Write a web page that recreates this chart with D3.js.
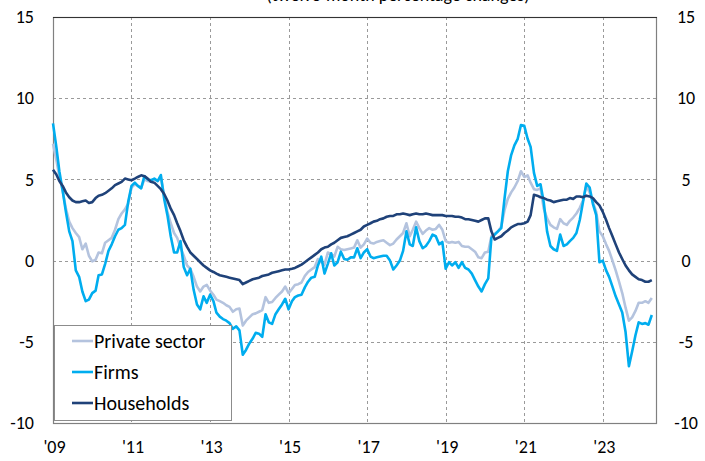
<!DOCTYPE html>
<html>
<head>
<meta charset="utf-8">
<script src="https://cdn.jsdelivr.net/npm/d3@7"></script>
<style>
  body { margin: 0; background: #fff; }
  svg { display: block; font-family: Carlito, Lato, "Open Sans", sans-serif; }
</style>
</head>
<body>
<div id="chart"></div>
<script>
// monthly, Jan 2009 -> Apr 2024
const months = d3.timeMonth.range(new Date(2009, 0, 1), new Date(2024, 4, 1));

const privateSector = [
  7.2, 6.2, 5.2, 4.3, 3.2, 2.4, 2.0, 1.7, 1.45, 0.7, 1.05, 0.3,
  -0.05, 0.05, 0.5, 0.45, 1.1, 1.25, 1.4, 1.9, 2.55, 2.9, 3.15, 3.5,
  4.5, 4.7, 4.6, 4.5, 5.0, 4.9, 4.85, 5.0, 4.9, 5.1, 4.0, 3.0,
  2.3, 1.7, 1.4, 0.8, 0.3, -0.3, -0.5, -1.0, -1.6, -1.9, -1.6, -1.5,
  -1.85, -2.1, -2.4, -2.5, -2.6, -2.75, -2.85, -3.15, -3.0, -2.95, -4.0, -3.7,
  -3.5, -3.3, -3.25, -3.15, -3.05, -2.25, -2.6, -2.55, -2.3, -2.1, -1.9, -1.6,
  -2.0, -1.75, -1.5, -1.45, -1.35, -0.95, -0.7, -0.55, -0.4, 0.1, -0.1, -0.25,
  0.5, 0.4, 0.25, 0.85, 0.7, 0.65, 0.7, 0.75, 0.8, 1.25, 0.8, 1.0,
  1.35, 1.1, 1.05, 1.15, 1.2, 1.25, 1.1, 0.95, 1.05, 1.3, 1.5, 1.7,
  2.3, 1.5, 1.9, 2.4, 2.0, 1.65, 1.85, 2.0, 1.9, 1.95, 2.2, 1.9,
  1.2, 1.1, 1.15, 1.1, 1.15, 0.9, 0.85, 0.85, 0.7, 0.55, 0.2, 0.15,
  0.5, 0.55, 1.5, 1.65, 1.8, 2.1, 3.1, 3.8, 4.2, 4.5, 4.9, 5.5,
  5.15, 5.25, 4.8, 4.4, 4.35, 4.45, 3.2, 2.6, 2.2, 2.05, 1.95, 2.55,
  2.3, 2.2, 2.45, 2.65, 2.9, 3.25, 3.7, 4.6, 4.2, 3.6, 3.0, 1.8,
  1.5, 1.0, 0.6, 0.0, -0.6, -1.3, -2.0, -2.9, -3.7, -3.5, -3.1, -2.6,
  -2.6, -2.5, -2.6, -2.3
];

const firms = [
  8.45, 7.0, 5.5, 4.3, 3.0, 1.8, 1.2, -0.6, -1.0, -1.9, -2.5, -2.4,
  -2.0, -1.85, -0.9, -0.85, -0.2, 0.6, 1.0, 1.5, 1.9, 2.0, 2.2, 3.6,
  4.6, 4.8, 4.6, 4.45, 5.2, 5.0, 4.95, 5.05, 4.9, 5.27, 3.8, 2.8,
  1.5, 0.5, 0.5, 1.2, -0.4, -0.9, -0.5, -1.8, -2.7, -3.0, -2.2, -2.6,
  -2.1, -2.5, -3.2, -3.45, -3.6, -3.7, -3.85, -4.2, -4.05, -4.3, -5.8, -5.5,
  -5.1, -4.8, -4.45, -4.5, -4.7, -3.3, -3.8, -3.9, -3.3, -3.0, -2.7, -2.35,
  -3.0, -2.5, -2.25, -2.15, -2.1, -1.65, -1.3, -1.05, -1.0, -0.3, 0.24, -0.8,
  -0.2, 0.45, -0.3, -0.1, 0.55, 0.1, 0.05, 0.2, 0.2, 0.76, 0.15, 0.5,
  0.7, 0.25, 0.15, 0.2, 0.25, 0.3, 0.3, 0.0, -0.55, -0.3, 0.0, 0.6,
  1.8, 1.0, 0.9, 2.05, 1.2, 0.76, 0.9, 1.2, 1.6, 1.5, 1.0, 1.15,
  -0.5, -0.1, -0.3, -0.1, -0.45, -0.1, -0.45, -0.55, -0.8, -1.2, -1.6, -1.9,
  -1.45, -1.1, 1.4, 1.6, 1.8, 2.0, 3.8, 5.5, 6.5, 7.1, 7.5, 8.35,
  8.3, 7.5, 7.0, 5.4, 4.6, 4.7, 3.6, 1.8, 0.9, 0.7, 0.6, 1.6,
  0.9, 1.0, 1.2, 1.4, 1.7, 2.5, 3.6, 4.75, 4.5, 3.5, 2.8, -0.1,
  0.0, -0.6, -1.0, -1.6, -2.2, -2.7, -3.2, -4.4, -6.5, -5.6, -4.6, -3.8,
  -3.9, -3.85, -3.95, -3.35
];

const households = [
  5.6, 5.3, 4.9, 4.6, 4.2, 3.9, 3.7, 3.6, 3.6, 3.65, 3.7, 3.55,
  3.6, 3.85, 4.0, 4.05, 4.15, 4.3, 4.45, 4.65, 4.75, 4.85, 5.05, 5.0,
  4.95, 5.05, 5.15, 5.25, 5.2, 5.05, 4.85, 4.8, 4.6, 4.4, 4.1, 3.7,
  3.2, 2.8, 2.3, 1.8, 1.25, 0.85, 0.5, 0.3, 0.1, -0.1, -0.3, -0.45,
  -0.6, -0.7, -0.8, -0.9, -0.95, -1.0, -1.05, -1.1, -1.15, -1.2, -1.45, -1.35,
  -1.25, -1.15, -1.1, -1.05, -0.95, -0.9, -0.85, -0.75, -0.7, -0.65, -0.6, -0.55,
  -0.55, -0.5, -0.45, -0.35, -0.25, -0.1, 0.05, 0.2, 0.35, 0.5, 0.7, 0.8,
  0.85, 1.0, 1.1, 1.25, 1.4, 1.45, 1.5, 1.6, 1.7, 1.8, 1.9, 2.1,
  2.2, 2.3, 2.4, 2.45, 2.55, 2.6, 2.7, 2.75, 2.75, 2.85, 2.85, 2.9,
  2.85, 2.8, 2.85, 2.9, 2.85, 2.85, 2.9, 2.85, 2.8, 2.8, 2.8, 2.8,
  2.75, 2.75, 2.75, 2.7, 2.7, 2.65, 2.55, 2.55, 2.5, 2.45, 2.4, 2.5,
  2.6, 2.6, 1.8, 1.3, 1.4, 1.5, 1.7, 1.85, 2.05, 2.15, 2.25, 2.25,
  2.3, 2.4, 2.8, 4.05, 4.0, 3.9, 3.85, 3.75, 3.7, 3.6, 3.65, 3.7,
  3.75, 3.75, 3.85, 3.8, 3.95, 3.95, 3.9, 4.0, 3.95, 3.85, 3.6, 3.4,
  3.0, 2.5, 2.0, 1.5, 1.0, 0.5, 0.1, -0.3, -0.6, -0.85, -1.0, -1.15,
  -1.2, -1.3, -1.3, -1.2
];

const seriesNames = ["Private sector", "Firms", "Households"];
const seriesColors = ["#b4c3de", "#00adef", "#1f4279"];
const xTickYears = [2009, 2011, 2013, 2015, 2017, 2019, 2021, 2023];
const yTicks = [-10, -5, 0, 5, 10, 15];
const subtitle = "(twelve-month percentage changes)";

const W = 705, H = 461;
const plot = { left: 53, right: 656, top: 17, bottom: 423 };
const tickFont = 18, legendFont = 20;

const svg = d3.select("#chart").append("svg")
  .attr("width", W).attr("height", H);

// subtitle sits above the frame, mostly outside the picture as in the source
svg.append("text")
  .attr("x", 398).attr("y", 1)
  .attr("text-anchor", "middle")
  .attr("font-size", 18)
  .attr("fill", "#000")
  .text(subtitle);

const x = d3.scaleTime()
  .domain([new Date(2009, 0, 1), new Date(2024, 4, 10)])
  .range([plot.left, plot.right]);
const y = d3.scaleLinear().domain([-10, 15]).range([plot.bottom, plot.top]);

// grid
const grid = svg.append("g").attr("stroke", "#9a9a9a").attr("stroke-dasharray", "3,3").attr("stroke-width", 1);
yTicks.filter(v => v > -10 && v < 15).forEach(v => {
  grid.append("line").attr("x1", plot.left).attr("x2", plot.right)
    .attr("y1", Math.round(y(v)) + 0.5).attr("y2", Math.round(y(v)) + 0.5);
});
xTickYears.filter(yr => yr > 2009).forEach(yr => {
  const px = Math.round(x(new Date(yr, 0, 1))) + 0.5;
  grid.append("line").attr("x1", px).attr("x2", px).attr("y1", plot.top).attr("y2", plot.bottom);
});

// frame
svg.append("rect")
  .attr("x", plot.left + 0.5).attr("y", plot.top + 0.5)
  .attr("width", plot.right - plot.left).attr("height", plot.bottom - plot.top)
  .attr("fill", "none").attr("stroke", "#808080").attr("stroke-width", 1.2);
svg.append("line").attr("x1", plot.left).attr("x2", plot.right + 1)
  .attr("y1", plot.top + 0.5).attr("y2", plot.top + 0.5).attr("stroke", "#333");

// axes (plain hyphen for negatives, like the source)
const fmtY = d => String(d);
const axL = d3.axisLeft(y).tickValues(yTicks).tickSize(0).tickPadding(0).tickFormat(fmtY);
const gL = svg.append("g").attr("transform", `translate(${plot.left - 19},0)`).call(axL);
const axR = d3.axisRight(y).tickValues(yTicks).tickSize(0).tickPadding(0).tickFormat(fmtY);
const gR = svg.append("g").attr("transform", `translate(${plot.right + 30},0)`).call(axR);
const axB = d3.axisBottom(x).tickValues(xTickYears.map(yr => new Date(yr, 0, 1)))
  .tickSize(0).tickPadding(0).tickFormat(d => "'" + d3.timeFormat("%y")(d));
const gB = svg.append("g").attr("transform", `translate(1,${plot.bottom + 17})`).call(axB);
[gL, gR, gB].forEach(g => {
  g.select(".domain").remove();
  g.selectAll("text").attr("font-size", tickFont).attr("fill", "#000")
    .style("font-family", "Carlito, Lato, 'Open Sans', sans-serif");
});
gR.selectAll("text").attr("text-anchor", "middle").attr("x", 0);

// lines
const allSeries = [privateSector, firms, households];
const line = d3.line()
  .x((d, i) => x(months[i]))
  .y(d => y(d))
  .curve(d3.curveLinear);

allSeries.forEach((vals, k) => {
  svg.append("path")
    .datum(vals)
    .attr("fill", "none")
    .attr("stroke", seriesColors[k])
    .attr("stroke-width", 2.6)
    .attr("stroke-linejoin", "round")
    .attr("d", line);
});

// legend
const lg = svg.append("g");
lg.append("rect").attr("x", 54.5).attr("y", 325.5).attr("width", 177).attr("height", 95)
  .attr("fill", "#fff").attr("stroke", "#8c8c8c");
seriesNames.forEach((name, k) => {
  const cy = 341 + k * 31;
  lg.append("line").attr("x1", 72).attr("x2", 93).attr("y1", cy).attr("y2", cy)
    .attr("stroke", seriesColors[k]).attr("stroke-width", 2.6);
  lg.append("text").attr("x", 94).attr("y", cy + 7)
    .attr("font-size", legendFont).attr("fill", "#000").text(name);
});
</script>
</body>
</html>
